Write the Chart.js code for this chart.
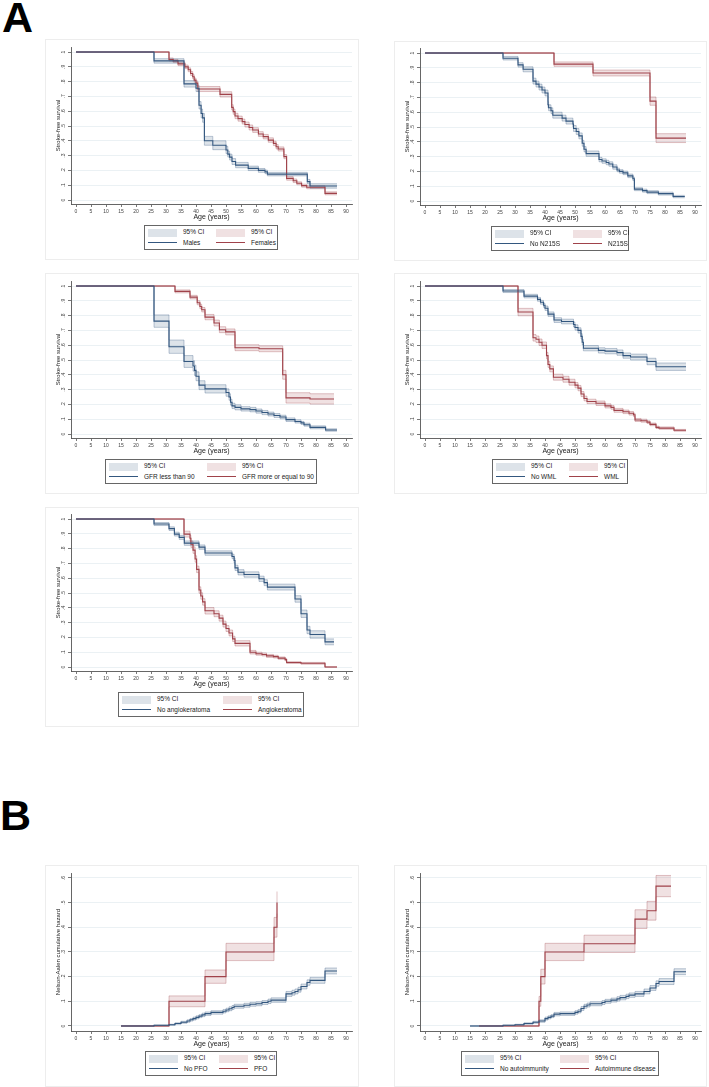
<!DOCTYPE html>
<html lang="en">
<head>
<meta charset="UTF-8">
<title>Stroke-free survival and cumulative hazard</title>
<script src="https://cdn.jsdelivr.net/npm/chart.js"></script>
<style>
  body { margin: 0; background: #fff; font-family: 'Liberation Sans', Arial, sans-serif; }
  #page { position: relative; width: 709px; height: 1087px; overflow: hidden; }
  canvas { position: absolute; }
  .letter { position: absolute; font-weight: bold; font-size: 43px; line-height: 1; color: #000; }
  .legend { position: absolute; border: 1px solid #666; box-sizing: border-box; background: #fff; }
  .legend .sw { position: absolute; height: 8px; width: 29px; }
  .legend .ln { position: absolute; height: 1px; width: 29px; }
  .legend .tx { position: absolute; font-size: 6.5px; color: #222; line-height: 8px; white-space: nowrap; }
</style>
</head>
<body>
<div id="page">
  <div class="letter" style="left:2px; top:-4px">A</div>
  <div class="letter" style="left:0px; top:794px">B</div>
</div>

<script>
// ---- data ----
const xTicks = [0, 5, 10, 15, 20, 25, 30, 35, 40, 45, 50, 55, 60, 65, 70, 75, 80, 85, 90];
const survTicks = [0, .1, .2, .3, .4, .5, .6, .7, .8, .9, 1];
const hazTicks = [0, .1, .2, .3, .4, .5, .6];

// Males / Females
const malesAge = [0, 26, 36, 40, 41, 41.7, 42.2, 42.8, 45.6, 50, 50.6, 51.2, 52, 53.2, 57.4, 60.8, 63, 63.8, 77.1, 78, 87];
const malesSurv = [1, .94, .785, .755, .64, .585, .555, .40, .37, .338, .31, .29, .26, .236, .214, .20, .19, .175, .124, .095, .095];
const malesCi = [0, .015, .022, .022, .025, .03, .03, .03, .03, .025, .02, .02, .02, .018, .015, .013, .012, .012, .015, .015, .015];
const femalesAge = [0, 31, 32.4, 34, 36.3, 37.4, 38.2, 38.9, 39.4, 40, 40.6, 48, 51.9, 52.4, 53, 54, 55.4, 56.3, 57.7, 58.9, 60.8, 62.4, 64.1, 65.8, 66.7, 67.4, 69.3, 70.2, 72.4, 73.6, 75.2, 76.9, 83, 87];
const femalesSurv = [1, .95, .94, .92, .90, .88, .855, .833, .81, .79, .75, .714, .626, .597, .568, .55, .53, .51, .49, .473, .446, .428, .405, .383, .36, .345, .293, .146, .13, .113, .097, .086, .045, .045];
const femalesCi = [0, .01, .01, .012, .012, .013, .013, .014, .014, .015, .017, .018, .018, .018, .018, .017, .017, .017, .017, .016, .016, .015, .015, .015, .015, .014, .014, .012, .012, .01, .01, .01, .01, .01];

// No N215S / N215S
const noN215sAge = [0, 26, 31, 32.7, 36, 37, 38, 39, 40, 41, 41.2, 42, 42.6, 45.7, 47, 49.3, 49.5, 50.4, 51.3, 52.4, 53, 53.7, 58, 59, 60.4, 61.3, 62.6, 64, 64.8, 66, 67.6, 69.3, 69.8, 72.5, 74, 77.8, 82.7, 86.6];
const noN215sSurv = [1, .965, .92, .89, .81, .79, .77, .75, .73, .65, .63, .61, .58, .56, .54, .52, .49, .47, .44, .39, .35, .32, .28, .27, .26, .25, .23, .21, .20, .19, .17, .15, .08, .07, .06, .05, .03, .03];
const noN215sCi = [0, .012, .015, .017, .02, .02, .02, .02, .02, .02, .02, .02, .02, .02, .02, .02, .02, .02, .02, .02, .018, .018, .015, .015, .015, .015, .015, .012, .012, .012, .012, .012, .01, .01, .01, .01, .008, .008];
const n215sAge = [0, 43, 56, 75, 77, 87];
const n215sSurv = [1, .925, .865, .675, .425, .425];
const n215sCi = [0, .015, .02, .028, .03, .03];

// GFR less than 90 / GFR more or equal to 90
const gfrLowAge = [0, 26, 31, 36, 39, 39.5, 40, 41, 43, 50, 51, 51.5, 52, 53, 55, 58, 60, 62, 64, 66, 68, 70, 73, 75, 76, 78, 83.2, 87];
const gfrLowSurv = [1, .763, .59, .49, .46, .43, .39, .33, .305, .28, .25, .215, .19, .18, .17, .165, .155, .145, .135, .125, .115, .097, .085, .075, .063, .045, .027, .027];
const gfrLowCi = [0, .042, .045, .04, .035, .035, .03, .03, .028, .025, .022, .02, .018, .017, .015, .015, .014, .014, .013, .013, .012, .012, .011, .01, .01, .01, .008, .008];
const gfrHighAge = [0, 33, 38, 40.4, 41.3, 41.9, 43, 46, 47.8, 49.9, 53, 61, 68.9, 70, 78, 86];
const gfrHighSurv = [1, .964, .925, .887, .862, .84, .79, .75, .705, .69, .583, .576, .40, .244, .237, .237];
const gfrHighCi = [0, .01, .012, .014, .015, .015, .018, .02, .02, .02, .02, .02, .03, .035, .035, .035];

// No WML / WML
const noWmlAge = [0, 26, 33, 37.5, 38.5, 39.5, 40, 41, 43, 45.5, 49.5, 50, 51, 52, 52.4, 52.8, 57.8, 60, 64, 66, 68.5, 74, 77, 87];
const noWmlSurv = [1, .966, .932, .91, .89, .87, .85, .81, .77, .76, .74, .72, .70, .66, .62, .58, .565, .56, .55, .53, .52, .49, .455, .455];
const noWmlCi = [0, .01, .012, .013, .013, .014, .015, .015, .016, .016, .017, .018, .018, .018, .018, .018, .018, .018, .018, .018, .02, .022, .025, .025];
const wmlAge = [0, 31, 36, 37, 38, 39, 40.5, 41, 41.6, 42.8, 46, 48, 50, 51, 52, 53, 54, 57, 60, 62, 63, 66, 68, 69.5, 70, 72, 74, 75, 77, 78, 83, 87];
const wmlSurv = [1, .824, .65, .64, .62, .60, .53, .47, .44, .384, .37, .35, .33, .31, .27, .24, .22, .208, .19, .18, .16, .15, .14, .13, .095, .09, .08, .065, .045, .04, .025, .025];
const wmlCi = [0, .025, .022, .022, .022, .022, .022, .02, .02, .02, .02, .02, .018, .018, .017, .016, .015, .015, .014, .013, .013, .012, .012, .011, .01, .01, .009, .009, .008, .008, .006, .006];

// No angiokeratoma / Angiokeratoma
const noAngioAge = [0, 26, 31, 32.8, 34.4, 36.1, 41, 43, 52, 52.7, 53, 54, 56, 61, 62.7, 63.8, 73, 75, 77, 78, 83, 86];
const noAngioSurv = [1, .966, .935, .898, .876, .837, .81, .77, .747, .72, .67, .64, .625, .596, .57, .54, .46, .36, .25, .22, .17, .17];
const noAngioCi = [0, .01, .012, .013, .014, .015, .015, .015, .015, .017, .018, .018, .018, .018, .02, .02, .022, .025, .025, .025, .02, .02];
const angioAge = [0, 36, 38, 38.3, 39, 39.7, 40.2, 41, 41.6, 42.2, 43, 46, 47.7, 49, 50, 51, 52.2, 53, 58, 60, 62, 63.5, 65.8, 67.4, 69.7, 70.2, 75, 83, 87];
const angioSurv = [1, .898, .87, .83, .79, .73, .66, .52, .48, .44, .38, .36, .33, .29, .26, .23, .19, .16, .10, .09, .085, .075, .07, .06, .05, .03, .025, 0, 0];
const angioCi = [0, .02, .02, .022, .022, .022, .022, .022, .022, .022, .022, .02, .02, .02, .02, .02, .018, .018, .012, .01, .01, .01, .009, .008, .008, .006, .006, 0, 0];

// No PFO / PFO (Nelson-Aalen)
const noPfoAge = [15, 26, 31, 33, 35, 37, 38, 39, 40, 41, 42, 43, 45, 49, 50, 51, 52, 52.7, 56, 58, 60, 62, 64, 65, 70, 72, 73, 74, 75, 77, 78, 83, 87];
const noPfoHaz = [0, .003, .005, .01, .015, .02, .025, .03, .035, .04, .045, .05, .055, .06, .065, .07, .075, .08, .084, .088, .09, .095, .10, .105, .13, .135, .14, .147, .16, .176, .185, .223, .223];
const noPfoCi = [0, .001, .002, .003, .004, .005, .005, .006, .006, .006, .007, .007, .007, .007, .007, .008, .008, .008, .008, .008, .008, .008, .009, .009, .01, .01, .01, .01, .01, .011, .012, .012, .012];
const pfoAge = [15, 31, 43, 50, 66, 67];
const pfoHaz = [0, .1, .2, .3, .4, .5];
const pfoCi = [0, .022, .027, .035, .04, .045];

// No autoimmunity / Autoimmune disease
const noAutoAge = [15, 26, 30, 33, 36, 38, 40, 41, 42, 43, 45, 50, 51, 52, 53, 54, 55, 59, 60, 62, 64, 65, 67, 68, 70, 73, 75, 77, 78, 83, 87];
const noAutoHaz = [0, .003, .005, .01, .015, .02, .03, .035, .04, .048, .05, .055, .06, .071, .08, .085, .09, .095, .10, .105, .11, .115, .12, .125, .13, .14, .154, .172, .18, .22, .22];
const noAutoCi = [0, .001, .002, .003, .004, .005, .006, .006, .006, .007, .007, .007, .007, .008, .008, .008, .008, .008, .008, .008, .009, .009, .009, .009, .01, .01, .01, .011, .012, .012, .012];
const autoAge = [18, 38, 38.6, 40, 53, 70, 74, 77, 82];
const autoHaz = [0, .1, .2, .3, .333, .433, .467, .567, .567];
const autoCi = [0, .02, .03, .035, .035, .038, .038, .043, .043];

// ---- styling ----
const NAVY = '#33577f', MAROON = '#a0424a';
const NAVY_FILL = 'rgba(51,87,127,0.17)', MAROON_FILL = 'rgba(160,66,74,0.16)';
const NAVY_EDGE = 'rgba(51,87,127,0.45)', MAROON_EDGE = 'rgba(160,66,74,0.45)';
const AXIS = '#555';
Chart.defaults.font.family = "'Liberation Sans', Arial, sans-serif";

function curve(age, val, ci, color, fill, edge) {
  return { age, val, ci, color, fill, edge };
}

// box = panel frame [left, top, width, height]; area = plot region [left, top, right, bottom] (page px)
// legend = [left, top, width, key2 offset]
const panels = [
  { box: [45, 39, 314, 221], area: [71, 47, 352, 204], y: [-0.027, 1.034], yTicks: survTicks,
    yTitle: 'Stroke-free survival', legend: [144, 225, 134, 71], labels: ['Males', 'Females'],
    curves: [curve(malesAge, malesSurv, malesCi, NAVY, NAVY_FILL, NAVY_EDGE), curve(femalesAge, femalesSurv, femalesCi, MAROON, MAROON_FILL, MAROON_EDGE)] },
  { box: [394, 41, 313, 220], area: [420, 48, 701, 205], y: [-0.027, 1.034], yTicks: survTicks,
    yTitle: 'Stroke-free survival', legend: [491, 226, 138, 81], labels: ['No N215S', 'N215S'],
    curves: [curve(noN215sAge, noN215sSurv, noN215sCi, NAVY, NAVY_FILL, NAVY_EDGE), curve(n215sAge, n215sSurv, n215sCi, MAROON, MAROON_FILL, MAROON_EDGE)] },
  { box: [45, 273, 314, 221], area: [71, 281, 352, 438], y: [-0.027, 1.034], yTicks: survTicks,
    yTitle: 'Stroke-free survival', legend: [105, 459, 212, 101], labels: ['GFR less than 90', 'GFR more or equal to 90'],
    curves: [curve(gfrLowAge, gfrLowSurv, gfrLowCi, NAVY, NAVY_FILL, NAVY_EDGE), curve(gfrHighAge, gfrHighSurv, gfrHighCi, MAROON, MAROON_FILL, MAROON_EDGE)] },
  { box: [394, 273, 313, 221], area: [420, 281, 701, 438], y: [-0.027, 1.034], yTicks: survTicks,
    yTitle: 'Stroke-free survival', legend: [492, 459, 136, 76], labels: ['No WML', 'WML'],
    curves: [curve(noWmlAge, noWmlSurv, noWmlCi, NAVY, NAVY_FILL, NAVY_EDGE), curve(wmlAge, wmlSurv, wmlCi, MAROON, MAROON_FILL, MAROON_EDGE)] },
  { box: [45, 507, 314, 220], area: [71, 514, 352, 671], y: [-0.027, 1.034], yTicks: survTicks,
    yTitle: 'Stroke-free survival', legend: [118, 692, 186, 104], labels: ['No angiokeratoma', 'Angiokeratoma'],
    curves: [curve(noAngioAge, noAngioSurv, noAngioCi, NAVY, NAVY_FILL, NAVY_EDGE), curve(angioAge, angioSurv, angioCi, MAROON, MAROON_FILL, MAROON_EDGE)] },
  { box: [45, 865, 314, 222], area: [71, 873, 352, 1031], y: [-0.0203, 0.62], yTicks: hazTicks,
    yTitle: 'Nelson-Aalen cumulative hazard', legend: [145, 1051, 132, 73], labels: ['No PFO', 'PFO'],
    curves: [curve(noPfoAge, noPfoHaz, noPfoCi, NAVY, NAVY_FILL, NAVY_EDGE), curve(pfoAge, pfoHaz, pfoCi, MAROON, MAROON_FILL, MAROON_EDGE)] },
  { box: [394, 865, 313, 222], area: [420, 873, 701, 1031], y: [-0.0203, 0.62], yTicks: hazTicks,
    yTitle: 'Nelson-Aalen cumulative hazard', legend: [461, 1051, 198, 98], labels: ['No autoimmunity', 'Autoimmune disease'],
    curves: [curve(noAutoAge, noAutoHaz, noAutoCi, NAVY, NAVY_FILL, NAVY_EDGE), curve(autoAge, autoHaz, autoCi, MAROON, MAROON_FILL, MAROON_EDGE)] }
];

const X_AXIS_H = 14;

function tickText(v) {
  if (v === 0) return '0';
  if (v === 1) return '1';
  return String(v).replace(/^0/, '');
}

// frame, rotated y labels and axis titles, Stata-like
const stataText = {
  id: 'stataText',
  beforeDraw(chart) {
    const { ctx, width, height } = chart;
    ctx.save();
    ctx.strokeStyle = '#ededed';
    ctx.lineWidth = 1;
    ctx.strokeRect(0.5, 0.5, width - 1, height - 1);
    ctx.restore();
  },
  afterDraw(chart, args, o) {
    const { ctx, chartArea: a } = chart;
    const y = chart.scales.y;
    ctx.save();
    ctx.fillStyle = '#444';
    ctx.textAlign = 'center';
    ctx.textBaseline = 'middle';
    ctx.font = "5px 'Liberation Sans', Arial, sans-serif";
    o.ticks.forEach(v => {
      ctx.save();
      ctx.translate(a.left - 7.5, y.getPixelForValue(v));
      ctx.rotate(-Math.PI / 2);
      ctx.fillText(tickText(v), 0, 0);
      ctx.restore();
    });
    ctx.fillStyle = '#222';
    ctx.font = "6px 'Liberation Sans', Arial, sans-serif";
    ctx.save();
    ctx.translate(a.left - 13, (a.top + a.bottom) / 2);
    ctx.rotate(-Math.PI / 2);
    ctx.fillText(o.title, 0, 0);
    ctx.restore();
    ctx.font = "7px 'Liberation Sans', Arial, sans-serif";
    ctx.fillText('Age (years)', (a.left + a.right) / 2, a.bottom + 13);
    ctx.restore();
  }
};

const page = document.getElementById('page');

panels.forEach(p => {
  const [bl, bt, bw, bh] = p.box;
  const [al, at, ar, ab] = p.area;
  const canvas = document.createElement('canvas');
  canvas.width = bw;
  canvas.height = bh;
  canvas.style.left = bl + 'px';
  canvas.style.top = bt + 'px';
  page.appendChild(canvas);

  const bands = [], lines = [];
  p.curves.forEach(c => {
    const pts = sign => c.age.map((x, i) => ({ x, y: c.val[i] + sign * c.ci[i] }));
    bands.push({ data: pts(-1), borderColor: c.edge, borderWidth: 0.7, fill: false, order: 1 });
    bands.push({ data: pts(1), borderColor: c.edge, borderWidth: 0.7, fill: '-1', backgroundColor: c.fill, order: 1 });
    lines.push({ data: pts(0), borderColor: c.color, borderWidth: 1.1, fill: false, order: 0 });
  });

  new Chart(canvas, {
    type: 'line',
    data: { datasets: bands.concat(lines) },
    options: {
      responsive: false,
      animation: false,
      devicePixelRatio: 1,
      elements: { point: { radius: 0 }, line: { stepped: true, tension: 0 } },
      layout: {
        autoPadding: false,
        padding: { left: 0, top: at - bt, right: bl + bw - ar, bottom: bt + bh - ab - X_AXIS_H }
      },
      scales: {
        x: {
          type: 'linear', min: -1.67, max: 92,
          afterBuildTicks: s => { s.ticks = xTicks.map(value => ({ value })); },
          afterFit: s => { s.height = X_AXIS_H; },
          ticks: { font: { size: 5 }, color: '#444', padding: 1.5, maxRotation: 0, autoSkip: false },
          grid: { drawOnChartArea: false, tickLength: 3, tickColor: AXIS, lineWidth: 0.8 },
          border: { color: AXIS, width: 0.9 }
        },
        y: {
          type: 'linear', min: p.y[0], max: p.y[1],
          afterBuildTicks: s => { s.ticks = p.yTicks.map(value => ({ value })); },
          afterFit: s => { s.width = al - bl; },
          ticks: { display: false },
          grid: { color: '#e6eef1', lineWidth: 0.8, tickLength: 3, tickColor: AXIS },
          border: { color: AXIS, width: 0.9 }
        }
      },
      plugins: {
        legend: { display: false },
        tooltip: { enabled: false },
        stataText: { ticks: p.yTicks, title: p.yTitle }
      }
    },
    plugins: [stataText]
  });

  // Stata-style legend box: CI swatches on row 1, line keys on row 2
  const [ll, lt, lw, k2] = p.legend;
  const lg = document.createElement('div');
  lg.className = 'legend';
  lg.style.left = ll + 'px';
  lg.style.top = lt + 'px';
  lg.style.width = lw + 'px';
  lg.style.height = '25px';
  const keys = [[3, NAVY_FILL, NAVY, p.labels[0]], [k2, MAROON_FILL, MAROON, p.labels[1]]];
  keys.forEach(([kx, fillCol, lineCol, label]) => {
    lg.insertAdjacentHTML('beforeend',
      `<div class="sw" style="left:${kx}px; top:3px; background:${fillCol}"></div>` +
      `<div class="tx" style="left:${kx + 35}px; top:2px">95% CI</div>` +
      `<div class="ln" style="left:${kx}px; top:16px; background:${lineCol}"></div>` +
      `<div class="tx" style="left:${kx + 35}px; top:12.5px">${label}</div>`);
  });
  page.appendChild(lg);
});
</script>
</body>
</html>
